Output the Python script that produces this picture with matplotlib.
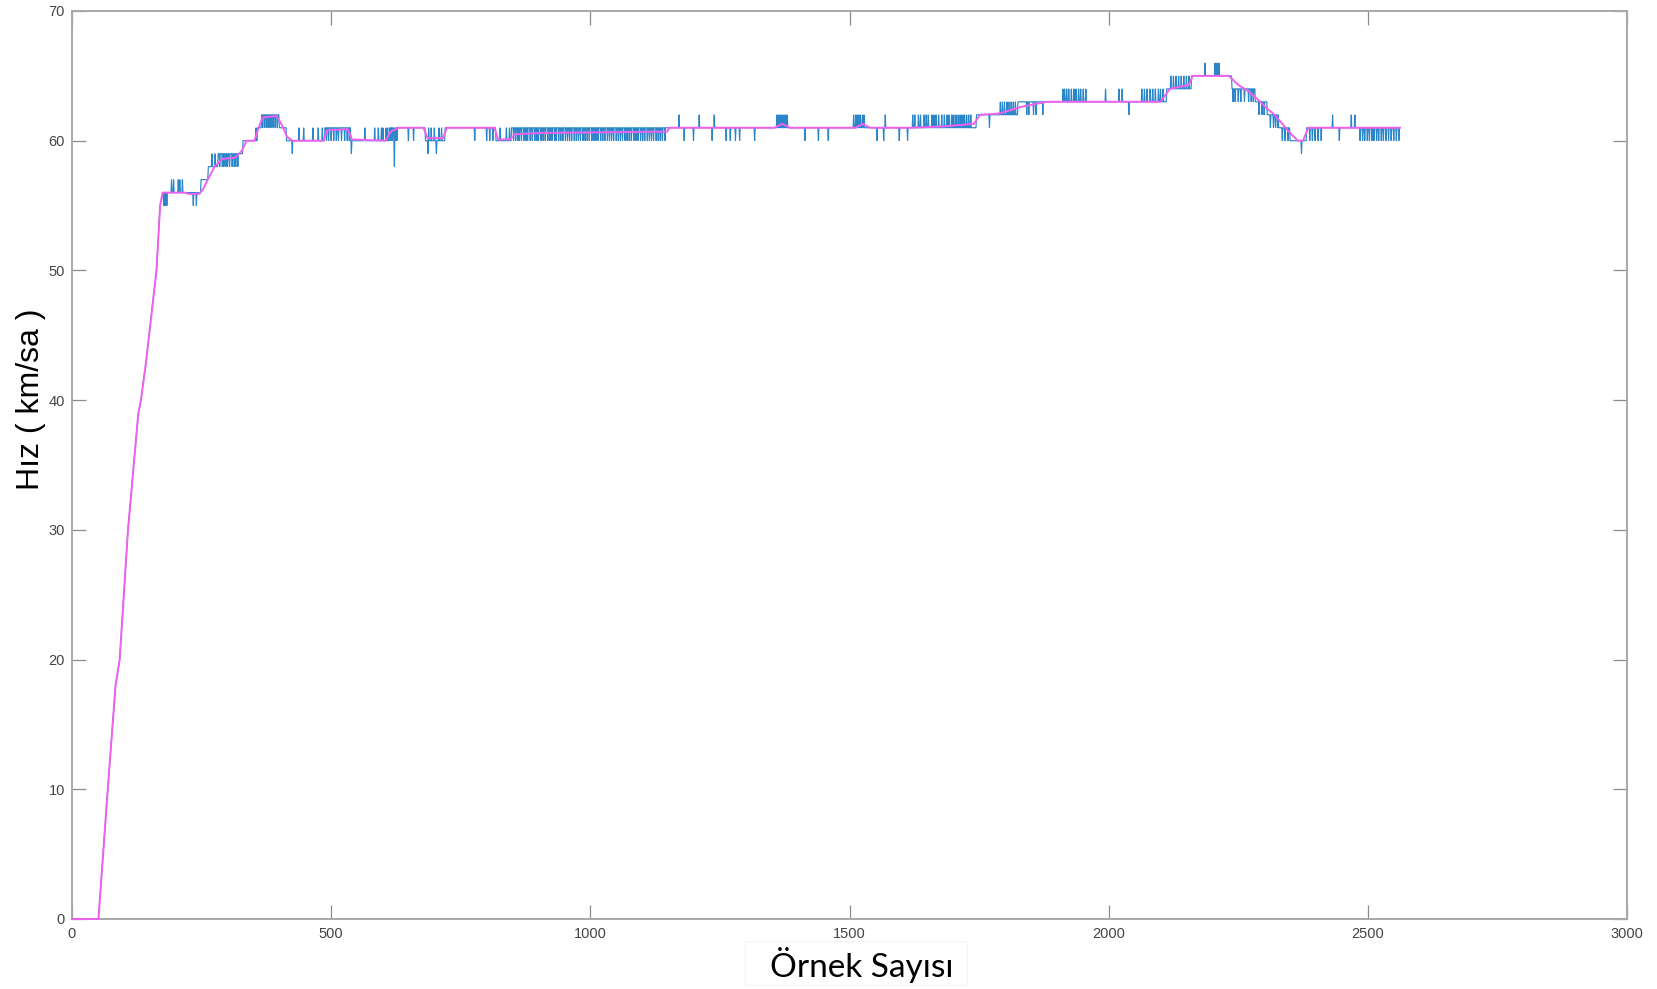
import numpy as np
import matplotlib
matplotlib.use("Agg")
import matplotlib.pyplot as plt
from matplotlib.patches import Rectangle

# ---- data -------------------------------------------------------------
# start-up ramp (sample index, speed km/h), shared by both traces
ramp_x = [0, 51, 69, 84, 88, 92, 108, 128, 133, 143, 163, 170, 175]
ramp_y = [0, 0, 10, 18, 19, 20, 30, 39, 40, 43, 50, 55, 56]

# raw speed: constant levels starting at these sample indices
seg_start = [175, 250, 263, 282, 330, 358, 366, 400, 414, 488, 538, 613,
             682, 720, 818, 848, 1745, 1825, 2112, 2160, 2238, 2283, 2306,
             2328, 2350, 2382]
seg_level = [56, 57, 58, 59, 60, 61, 62, 61, 60, 61, 60, 61,
             60, 61, 60, 61, 62, 63, 64, 65, 64, 63, 62,
             61, 60, 61]
last_sample = 2562

# samples where the raw reading jumps one km/h above its level
up_idx = [192, 196, 205, 208, 213, 249, 270, 276, 355,
          438, 447, 465, 475, 483,
          565, 584, 591, 597, 600, 606, 609,
          688, 693, 699, 708, 713, 826, 838, 844,
          1171, 1210, 1239, 1360, 1363, 1366, 1368, 1371, 1374, 1377, 1380,
          1508, 1512, 1515, 1518, 1521, 1525, 1528, 1569,
          1622, 1626, 1633, 1637, 1644, 1648, 1652, 1659, 1663, 1667, 1672,
          1678, 1683, 1688, 1692, 1697, 1700, 1704, 1707, 1711, 1715, 1719,
          1722, 1726, 1730, 1734,
          1791, 1795, 1799, 1804, 1808, 1812, 1816, 1820,
          1912, 1915, 1919, 1923, 1928, 1933, 1937, 1942, 1946, 1951, 1956,
          1994, 2020, 2026, 2064, 2069, 2074, 2080, 2085, 2090, 2096, 2100,
          2105,
          2120, 2125, 2130, 2135, 2140, 2145, 2150, 2155,
          2186, 2205, 2209, 2213,
          2432, 2468, 2475]

# samples where the raw reading drops one km/h below its level
down_idx = [177, 179, 181, 183, 234, 240,
            285, 290, 293, 297, 300, 304, 309, 313, 316, 320,
            368, 372, 376, 380, 384, 388, 392, 396,
            425,
            491, 495, 500, 505, 510, 514, 520, 526, 531, 535,
            539, 615, 618, 621, 624, 627, 649, 659, 687, 703,
            777, 800, 806, 812,
            852, 856, 860, 863, 867, 872, 876, 879, 884, 888, 893, 897, 900,
            905, 909, 913, 918, 922, 926, 931, 934, 939, 943, 947, 952, 956,
            960, 964, 969, 973, 977, 981, 986, 990, 994, 998, 1003, 1007,
            1011, 1015, 1020, 1024, 1028, 1033, 1037, 1041, 1045, 1050, 1054,
            1058, 1062, 1067, 1071, 1075, 1079, 1084, 1088, 1092, 1097, 1101,
            1105, 1110, 1114, 1118, 1122, 1127, 1131, 1135, 1139, 1144,
            1181, 1199, 1235, 1262, 1270, 1280, 1288, 1317, 1414, 1440, 1459,
            1553, 1566, 1596, 1612,
            1770, 1842, 1846, 1855, 1860, 1873, 2039,
            2240, 2244, 2250, 2255, 2262, 2270, 2275, 2279,
            2290, 2296, 2300, 2312, 2318, 2322, 2326, 2335, 2340, 2346,
            2372,
            2388, 2393, 2398, 2404, 2410, 2445, 2485, 2490, 2494, 2499, 2503,
            2508, 2512, 2517, 2521, 2526, 2530, 2535, 2540, 2545, 2550, 2555,
            2560]

# larger single-sample drop-outs
deep_idx = [622]
deep_val = [58]

# filtered speed (sample index, km/h)
filt_x = [0, 51, 69, 84, 88, 92, 108, 128, 133, 143, 163, 170, 175,
          218, 225, 245, 252, 262, 275, 290, 315, 327, 337, 352, 360, 368,
          395, 405, 415, 425, 485, 492, 532, 540, 605, 615, 630, 678, 686,
          716, 723, 815, 822, 845, 855, 905, 1148, 1152, 1355, 1370, 1385,
          1512, 1525, 1540, 1618, 1680, 1740, 1752, 1790, 1830, 1880, 2100,
          2118, 2155, 2162, 2232, 2250, 2270, 2290, 2305, 2320, 2335, 2350,
          2365, 2375, 2385, 2562]
filt_y = [0, 0, 10, 18, 19, 20, 30, 39, 40, 43, 50, 55, 56,
          56, 55.9, 55.9, 56.2, 57, 58, 58.6, 58.7, 59.2, 60, 60, 61, 61.8,
          61.9, 61.2, 60.3, 60, 60, 60.8, 60.9, 60.1, 60, 60.7, 61, 61, 60.2,
          60.2, 61, 61, 60.1, 60.1, 60.5, 60.6, 60.7, 61, 61, 61.3, 61,
          61, 61.3, 61, 61, 61.1, 61.3, 62, 62.1, 62.6, 63, 63,
          64, 64.3, 65, 65, 64.3, 63.8, 63.1, 62.5, 62, 61.3, 60.6,
          60, 60, 61, 61]

# ---- build the raw series from its level segments -----------------------
samples = np.arange(seg_start[0], last_sample + 1)
raw = np.zeros(samples.size)
bounds = list(seg_start) + [last_sample + 1]
for a, b, lev in zip(bounds[:-1], bounds[1:], seg_level):
    raw[(samples >= a) & (samples < b)] = lev
raw[np.asarray(up_idx) - seg_start[0]] += 1
raw[np.asarray(down_idx) - seg_start[0]] -= 1
raw[np.asarray(deep_idx) - seg_start[0]] = deep_val

raw_x = np.concatenate([ramp_x[:-1], samples])
raw_y = np.concatenate([ramp_y[:-1], raw])

# ---- figure -----------------------------------------------------------
W, H = 1657, 989
fig = plt.figure(figsize=(W / 100, H / 100), dpi=100)
fig.patch.set_facecolor("white")
ax = fig.add_axes([72 / W, 1 - 919 / H, 1555 / W, 908 / H])

ax.plot(raw_x, raw_y, color="#2a86c8", lw=0.85, solid_joinstyle="miter",
        clip_on=False, zorder=3)
ax.plot(filt_x, filt_y, color="#f060f0", lw=1.4, clip_on=False, zorder=4)

ax.set_xlim(0, 3000)
ax.set_ylim(0, 70)
ax.set_xticks(np.arange(0, 3001, 500))
ax.set_yticks(np.arange(0, 71, 10))

for sp in ax.spines.values():
    sp.set_color("#a8a8a8")
    sp.set_linewidth(1.4)
    sp.set_zorder(2)

ax.tick_params(direction="in", top=True, right=True, length=10, width=0.9,
               color="#8c8c8c", labelsize=10.5, labelcolor="#444444")
ax.tick_params(axis="y", pad=5)
ax.tick_params(axis="x", pad=6)
for lbl in ax.get_xticklabels() + ax.get_yticklabels():
    lbl.set_fontfamily("Liberation Sans")

fig.text(31 / W, 1 - 399 / H, "Hız ( km/sa )", rotation=90,
         ha="center", va="center", fontsize=23, family="Liberation Sans",
         color="black")

# x-axis caption with its faint frame
fig.patches.append(Rectangle((745 / W, 1 - 985 / H), 222 / W, 44 / H,
                             transform=fig.transFigure, fill=False,
                             edgecolor="#f6f6f6", lw=1.0))
fig.text(862 / W, 1 - 965 / H, "Örnek Sayısı", ha="center", va="center",
         fontsize=24, family="Lato", color="black")

fig.savefig("out.png", dpi=100, facecolor="white")
